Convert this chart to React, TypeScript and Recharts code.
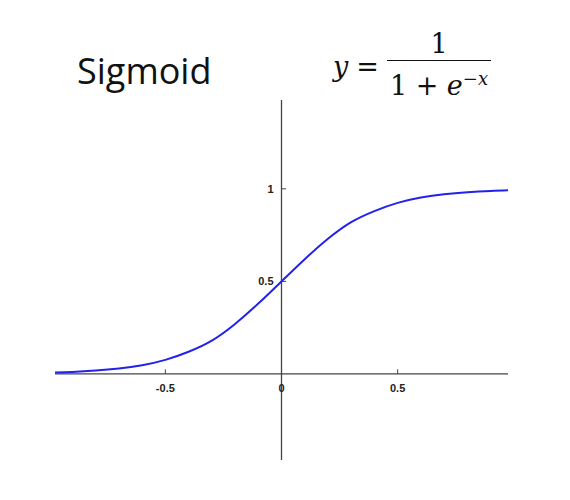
import { ComposedChart, Line, XAxis, YAxis, ReferenceLine } from 'recharts'

const xs = [-0.975, -0.9, -0.8, -0.7, -0.6, -0.5, -0.4, -0.3, -0.2, -0.1, 0, 0.1, 0.2, 0.3, 0.4, 0.5, 0.6, 0.7, 0.8, 0.9, 0.975]
const ys = [0.008, 0.011, 0.018, 0.029, 0.047, 0.076, 0.12, 0.18, 0.27, 0.38, 0.5, 0.62, 0.73, 0.82, 0.88, 0.924, 0.953, 0.971, 0.982, 0.989, 0.992]
const xTicks = [-0.5, 0, 0.5]
const yTicks = [0.5, 1]

const data = xs.map((x, i) => ({ x, y: ys[i] }))
const axisColor = '#444'
const tickFont = { fontSize: 11, fill: '#222', fontFamily: 'Liberation Sans, Arial', fontWeight: 600 }

export default function App() {
  return (
    <div style={{ position: 'absolute', left: 0, top: 0, width: 570, height: 500, background: '#fff', fontFamily: 'Open Sans, sans-serif' }}>
      <div style={{ position: 'absolute', left: 77, top: 46, fontSize: 36, fontWeight: 400, fontFamily: 'Open Sans, sans-serif', color: '#111' }}>
        Sigmoid
      </div>
      <div style={{ position: 'absolute', left: 333, top: 28, fontFamily: 'DejaVu Serif, serif', fontSize: 27, color: '#111', display: 'flex', alignItems: 'center' }}>
        <span style={{ fontStyle: 'italic' }}>y</span>
        <span style={{ margin: '0 8px' }}>=</span>
        <span style={{ display: 'inline-flex', flexDirection: 'column', alignItems: 'center' }}>
          <span style={{ lineHeight: '32px' }}>1</span>
          <span style={{ borderTop: '1.5px solid #111', lineHeight: '36px', padding: '0 3px' }}>
            1 + <i>e</i><sup style={{ fontSize: 18 }}>−<i>x</i></sup>
          </span>
        </span>
      </div>
      <ComposedChart width={570} height={500} data={data} margin={{ top: 100, right: 62, bottom: 40, left: 55 }}>
        <XAxis dataKey="x" type="number" domain={[-0.975, 0.975]} hide />
        <YAxis type="number" domain={[-0.465, 1.48]} hide />
        <ReferenceLine y={0} stroke={axisColor} strokeWidth={1.3} />
        <ReferenceLine x={0} stroke={axisColor} strokeWidth={1.3} />
        {xTicks.map((t) => (
          <ReferenceLine
            key={'x' + t}
            segment={[{ x: t, y: 0 }, { x: t, y: 0.025 }]}
            stroke={axisColor}
            label={{ value: String(t), position: 'bottom', offset: 10, ...tickFont }}
          />
        ))}
        {yTicks.map((t) => (
          <ReferenceLine
            key={'y' + t}
            segment={[{ x: 0, y: t }, { x: 0.02, y: t }]}
            stroke={axisColor}
            label={{ value: String(t), position: 'left', offset: 8, ...tickFont }}
          />
        ))}
        <Line dataKey="y" type="natural" stroke="#2222ee" strokeWidth={2} dot={false} isAnimationActive={false} />
      </ComposedChart>
    </div>
  )
}
